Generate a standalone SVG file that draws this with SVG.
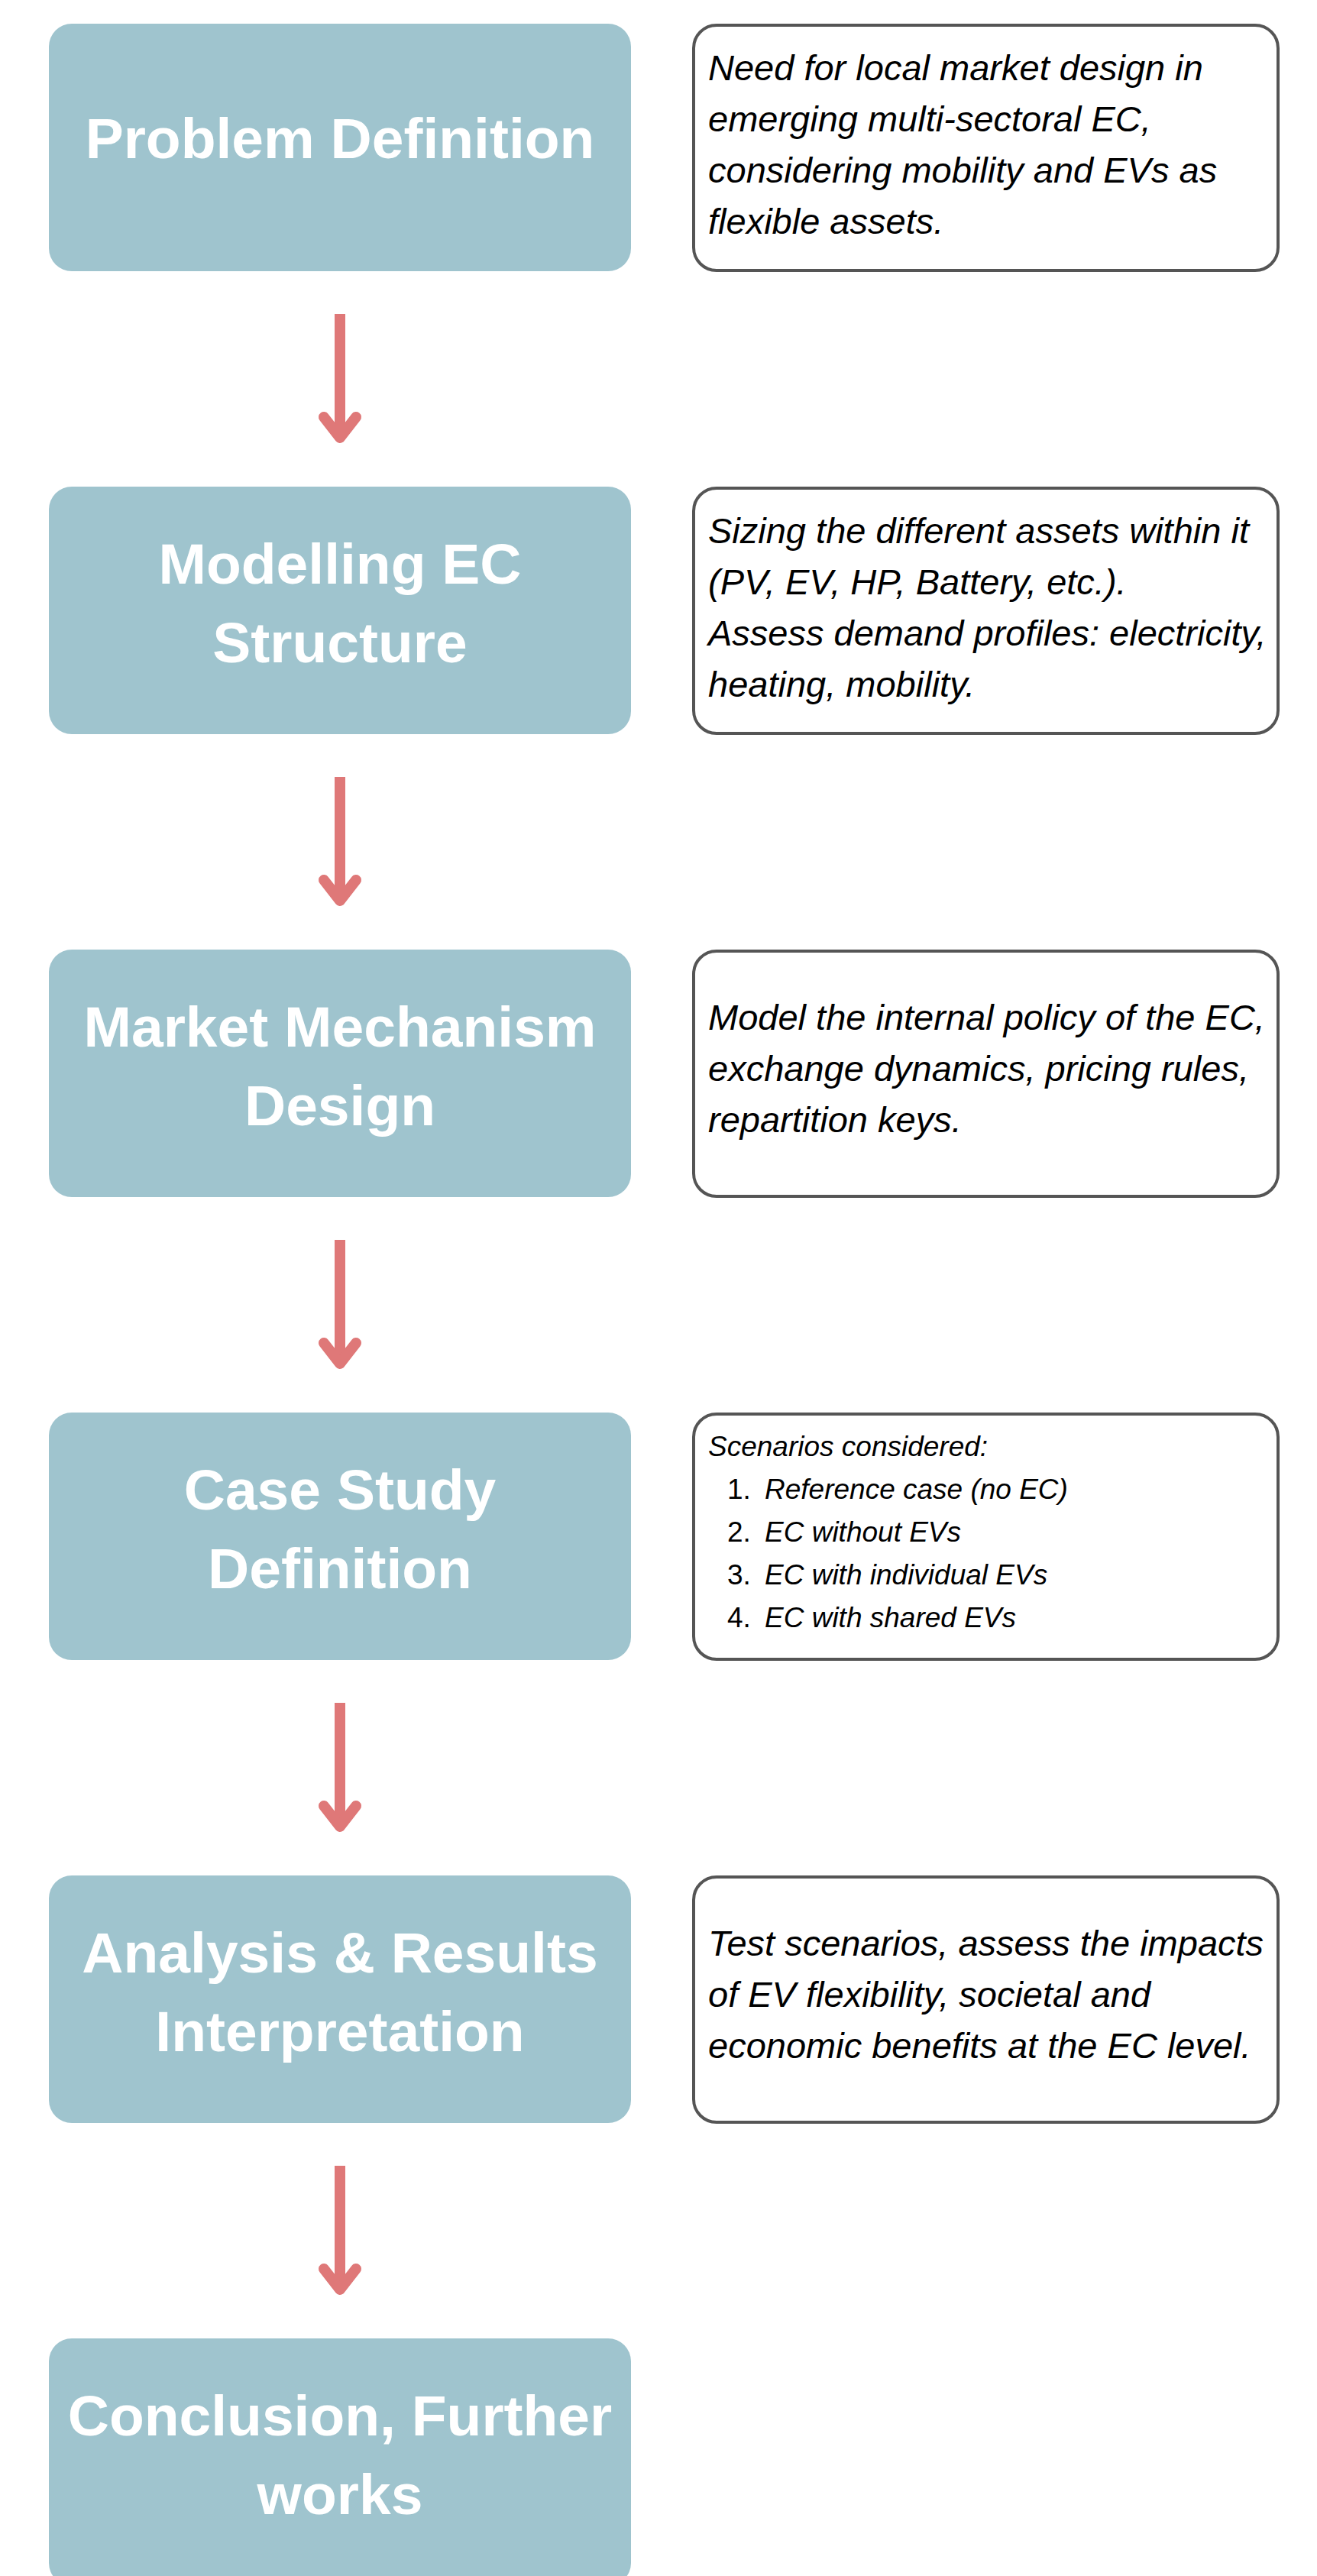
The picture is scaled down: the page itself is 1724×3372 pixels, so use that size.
<svg xmlns="http://www.w3.org/2000/svg" width="1724" height="3372" viewBox="0 0 1724 3372">
<style>
.step{fill:#9fc4ce;}
.title{font-family:"Liberation Sans",Arial,Helvetica,sans-serif;font-weight:bold;font-size:75px;fill:#ffffff;text-anchor:middle;}
.note{fill:#ffffff;stroke:#555555;stroke-width:4;}
.desc{font-family:"Liberation Sans",Arial,Helvetica,sans-serif;font-style:italic;font-size:47px;fill:#000000;}
.scen{font-family:"Liberation Sans",Arial,Helvetica,sans-serif;font-style:italic;font-size:37px;fill:#000000;}
.num{font-style:normal;}
.arrow{fill:none;stroke:#df7878;stroke-width:14;stroke-linecap:round;stroke-linejoin:round;}
.shaft{fill:none;stroke:#df7878;stroke-width:14;}
</style>
<rect width="1724" height="3372" fill="#ffffff"/>

<g id="step1">
<rect class="step" x="64" y="31" width="762" height="324" rx="30"/>
<text class="title" x="445" y="207">Problem Definition</text>
</g>
<g id="note1">
<rect class="note" x="908" y="33" width="765" height="321" rx="30"/>
<text class="desc" x="927" y="105">Need for local market design in</text>
<text class="desc" x="927" y="172">emerging multi-sectoral EC,</text>
<text class="desc" x="927" y="239">considering mobility and EVs as</text>
<text class="desc" x="927" y="306">flexible assets.</text>
</g>

<g id="step2">
<rect class="step" x="64" y="637" width="762" height="324" rx="30"/>
<text class="title" x="445" y="764">Modelling EC</text>
<text class="title" x="445" y="867">Structure</text>
</g>
<g id="note2">
<rect class="note" x="908" y="639" width="765" height="321" rx="30"/>
<text class="desc" x="927" y="711">Sizing the different assets within it</text>
<text class="desc" x="927" y="778">(PV, EV, HP, Battery, etc.).</text>
<text class="desc" x="927" y="845">Assess demand profiles: electricity,</text>
<text class="desc" x="927" y="912">heating, mobility.</text>
</g>

<g id="step3">
<rect class="step" x="64" y="1243" width="762" height="324" rx="30"/>
<text class="title" x="445" y="1370">Market Mechanism</text>
<text class="title" x="445" y="1473">Design</text>
</g>
<g id="note3">
<rect class="note" x="908" y="1245" width="765" height="321" rx="30"/>
<text class="desc" x="927" y="1348">Model the internal policy of the EC,</text>
<text class="desc" x="927" y="1415">exchange dynamics, pricing rules,</text>
<text class="desc" x="927" y="1482">repartition keys.</text>
</g>

<g id="step4">
<rect class="step" x="64" y="1849" width="762" height="324" rx="30"/>
<text class="title" x="445" y="1976">Case Study</text>
<text class="title" x="445" y="2079">Definition</text>
</g>
<g id="note4">
<rect class="note" x="908" y="1851" width="765" height="321" rx="30"/>
<text class="scen" x="927" y="1906">Scenarios considered:</text>
<text class="scen" y="1962"><tspan class="num" x="952">1.</tspan><tspan x="1001">Reference case (no EC)</tspan></text>
<text class="scen" y="2018"><tspan class="num" x="952">2.</tspan><tspan x="1001">EC without EVs</tspan></text>
<text class="scen" y="2074"><tspan class="num" x="952">3.</tspan><tspan x="1001">EC with individual EVs</tspan></text>
<text class="scen" y="2130"><tspan class="num" x="952">4.</tspan><tspan x="1001">EC with shared EVs</tspan></text>
</g>

<g id="step5">
<rect class="step" x="64" y="2455" width="762" height="324" rx="30"/>
<text class="title" x="445" y="2582">Analysis &amp; Results</text>
<text class="title" x="445" y="2685">Interpretation</text>
</g>
<g id="note5">
<rect class="note" x="908" y="2457" width="765" height="321" rx="30"/>
<text class="desc" x="927" y="2560">Test scenarios, assess the impacts</text>
<text class="desc" x="927" y="2627">of EV flexibility, societal and</text>
<text class="desc" x="927" y="2694">economic benefits at the EC level.</text>
</g>

<g id="step6">
<rect class="step" x="64" y="3061" width="762" height="324" rx="30"/>
<text class="title" x="445" y="3188">Conclusion, Further</text>
<text class="title" x="445" y="3291">works</text>
</g>

<g id="connectors">
<g>
<line class="shaft" x1="445" y1="411" x2="445" y2="572"/>
<polyline class="arrow" points="424,546 445,573 466,546"/>
</g>
<g transform="translate(0,606)">
<line class="shaft" x1="445" y1="411" x2="445" y2="572"/>
<polyline class="arrow" points="424,546 445,573 466,546"/>
</g>
<g transform="translate(0,1212)">
<line class="shaft" x1="445" y1="411" x2="445" y2="572"/>
<polyline class="arrow" points="424,546 445,573 466,546"/>
</g>
<g transform="translate(0,1818)">
<line class="shaft" x1="445" y1="411" x2="445" y2="572"/>
<polyline class="arrow" points="424,546 445,573 466,546"/>
</g>
<g transform="translate(0,2424)">
<line class="shaft" x1="445" y1="411" x2="445" y2="572"/>
<polyline class="arrow" points="424,546 445,573 466,546"/>
</g>
</g>
</svg>
